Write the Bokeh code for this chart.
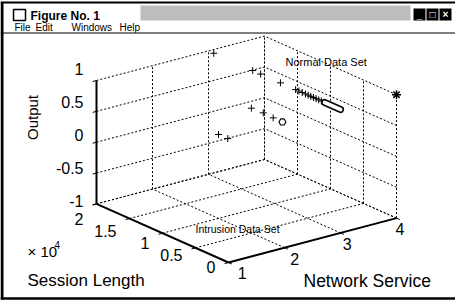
import numpy as np
from bokeh.plotting import figure
from bokeh.models import Range1d
from bokeh.core.properties import value
from bokeh.embed import file_html
from bokeh.resources import INLINE

# ---------------- data ----------------
service_ticks = [1, 2, 3, 4]
service_tick_labels = ["1", "2", "3", "4"]
session_ticks = [0, 5000, 10000, 15000, 20000]
session_tick_labels = ["0", "0.5", "1", "1.5", "2"]
output_ticks = [-1, -0.5, 0, 0.5, 1]
output_tick_labels = ["-1", "-0.5", "0", "0.5", "1"]

normal_service = [3, 3, 3, 3, 3, 3, 3, 3, 3, 3, 3, 3, 3, 3, 4]
normal_session = [19200, 13300, 12100, 9100, 6800, 6300, 5800, 5300, 4900, 4500, 4100, 3700, 3300, 2900, 0]
normal_output = [1, 1, 1, 1, 1, 1, 1, 1, 1, 1, 1, 1, 1, 1, 1]

# dense run of normal points drawn as an elongated blob
blob_service = [3, 3]
blob_session = [2400, 0]
blob_output = [1, 1]

intrusion_service = [3, 3, 3, 2, 2]
intrusion_session = [13500, 11700, 10200, 10000, 8600]
intrusion_output = [0.38, 0.39, 0.38, 0.36, 0.36]
intrusion_ring_service = [3]
intrusion_ring_session = [8800]
intrusion_ring_output = [0.38]

# ---------------- 3-D view (oblique projection of the MATLAB view) ----------------
ORIGIN = (228.0, 262.0)
E_SERV = (56.0, -14.8)
E_SESS = (-66.0, -29.3)   # per 1e4
E_OUT = (0.0, -61.7)


def proj(s, L, z):
    s = np.asarray(s, float) - 1.0
    L = np.asarray(L, float) / 1e4
    z = np.asarray(z, float) + 1.0
    X = ORIGIN[0] + E_SERV[0] * s + E_SESS[0] * L + E_OUT[0] * z
    Y = ORIGIN[1] + E_SERV[1] * s + E_SESS[1] * L + E_OUT[1] * z
    return X, Y


def seg(a, b):
    xa, ya = proj(*a)
    xb, yb = proj(*b)
    return [float(xa), float(xb)], [float(ya), float(yb)]


smin, smax = service_ticks[0], service_ticks[-1]
lmin, lmax = session_ticks[0], session_ticks[-1]
zmin, zmax = output_ticks[0], output_ticks[-1]

p = figure(width=455, height=301, x_range=Range1d(0, 455), y_range=Range1d(301, 0),
           output_backend="svg", toolbar_location=None, min_border=0,
           x_axis_location=None, y_axis_location=None)
p.grid.visible = False
p.outline_line_color = None
p.background_fill_color = "white"
p.border_fill_color = "white"

FONT = value("Liberation Sans")

# ---------------- window chrome ----------------
p.quad(left=[140], right=[410], top=[5], bottom=[20], fill_color="#bdbdbd", line_color=None)
p.quad(left=[13], right=[25], top=[9], bottom=[20], fill_color="white", line_color="black", line_width=1.5)
p.text(x=[30], y=[15], text=["Figure No. 1"], text_font=FONT, text_font_size="12px",
       text_font_style="bold", text_baseline="middle", text_color="black")
p.quad(left=[413, 426, 439], right=[425, 438, 451], top=[8, 8, 8], bottom=[20, 20, 20],
       fill_color="black", line_color=None)
p.text(x=[419, 432, 445], y=[14, 14, 14], text=["_", "□", "×"], text_font=FONT, text_font_size="10px",
       text_font_style="bold", text_align="center", text_baseline="middle", text_color="white")
p.text(x=[14, 35, 71, 119], y=[27, 27, 27, 27], text=["File", "Edit", "Windows", "Help"],
       text_font=FONT, text_font_size="10px", text_baseline="middle", text_color="black")
p.line(x=[0, 455], y=[2, 2], line_color="black", line_width=2)
p.line(x=[0, 455], y=[32.5, 32.5], line_color="black", line_width=1)
p.line(x=[1.5, 1.5], y=[2, 299], line_color="black", line_width=3)
p.line(x=[0, 455], y=[298, 298], line_color="black", line_width=2.5)

# ---------------- dotted grid on the three back planes ----------------
gx, gy = [], []
for s in service_ticks[1:]:
    a, b = seg((s, lmax, zmin), (s, lmax, zmax)); gx.append(a); gy.append(b)
for z in output_ticks:
    a, b = seg((smin, lmax, z), (smax, lmax, z)); gx.append(a); gy.append(b)
for L in session_ticks:
    a, b = seg((smax, L, zmin), (smax, L, zmax)); gx.append(a); gy.append(b)
for z in output_ticks:
    a, b = seg((smax, lmin, z), (smax, lmax, z)); gx.append(a); gy.append(b)
for s in service_ticks[1:]:
    a, b = seg((s, lmin, zmin), (s, lmax, zmin)); gx.append(a); gy.append(b)
for L in session_ticks[1:]:
    a, b = seg((smin, L, zmin), (smax, L, zmin)); gx.append(a); gy.append(b)
p.multi_line(xs=gx, ys=gy, line_color="black", line_width=1, line_dash="2 2")

# ---------------- solid axes and ticks ----------------
ax, ay = [], []
for a3, b3 in [((smin, lmax, zmin), (smin, lmax, zmax)),
               ((smin, lmax, zmin), (smin, lmin, zmin)),
               ((smin, lmin, zmin), (smax, lmin, zmin))]:
    a, b = seg(a3, b3); ax.append(a); ay.append(b)
p.multi_line(xs=ax, ys=ay, line_color="black", line_width=2)

tx, ty = [], []
for z in output_ticks:
    a, b = seg((smin, lmax, z), (smin - 0.07, lmax, z)); tx.append(a); ty.append(b)
for L in session_ticks:
    a, b = seg((smin, L, zmin), (smin - 0.07, L, zmin)); tx.append(a); ty.append(b)
for s in service_ticks:
    a, b = seg((s, lmin, zmin), (s, lmin - 500, zmin)); tx.append(a); ty.append(b)
p.multi_line(xs=tx, ys=ty, line_color="black", line_width=1)

# tick labels (MATLAB places them along a line slightly skewed from the axis)
zt = np.asarray(output_ticks, float)
zx, zy = proj([smin] * len(zt), [lmax] * len(zt), zt)
p.text(x=list(zx - 13), y=list(zy - 12 + (1 - zt) * 4.5), text=output_tick_labels, text_font=FONT,
       text_font_size="16px", text_align="right", text_baseline="middle", text_color="black")

lt = np.asarray(session_ticks, float) / 1e4
lx, ly = proj([smin] * len(lt), session_ticks, [zmin] * len(lt))
p.text(x=list(lx - 13), y=list(ly + 9.4 + 5.4 * (lt - 1)), text=session_tick_labels, text_font=FONT,
       text_font_size="16px", text_align="right", text_baseline="middle", text_color="black")

st = np.asarray(service_ticks, float)
sx, sy = proj(st, [lmin] * len(st), [zmin] * len(st))
p.text(x=list(sx + 8.5 - 3.4 * (st - 2.5)), y=list(sy + 10.8), text=service_tick_labels, text_font=FONT,
       text_font_size="16px", text_align="center", text_baseline="middle", text_color="black")

# axis titles
p.text(x=[32], y=[117], text=["Output"], angle=np.pi / 2, text_font=FONT, text_font_size="15px",
       text_align="center", text_baseline="middle", text_color="black")
p.text(x=[27], y=[280], text=["Session Length"], text_font=FONT, text_font_size="17px",
       text_baseline="middle", text_color="black")
p.text(x=[303], y=[280], text=["Network Service"], text_font=FONT, text_font_size="17.5px",
       text_baseline="middle", text_color="black")
p.text(x=[27], y=[251], text=["× 10"], text_font=FONT, text_font_size="15px",
       text_baseline="middle", text_color="black")
p.text(x=[54], y=[244], text=["4"], text_font=FONT, text_font_size="10px",
       text_baseline="middle", text_color="black")

# ---------------- data points ----------------
nx, ny = proj(normal_service, normal_session, normal_output)
p.scatter(x=list(nx[:-1]), y=list(ny[:-1]), marker="cross", size=7, line_color="black", line_width=1)
p.scatter(x=[nx[-1]], y=[ny[-1]], marker="asterisk", size=9, line_color="black", line_width=1.5)

bx, by = proj(blob_service, blob_session, blob_output)
p.line(x=list(bx), y=list(by), line_color="black", line_width=7, line_cap="round")
p.line(x=list(bx), y=list(by), line_color="white", line_width=4, line_cap="round")

ix, iy = proj(intrusion_service, intrusion_session, intrusion_output)
p.scatter(x=list(ix), y=list(iy), marker="cross", size=7, line_color="black", line_width=1)
rx, ry = proj(intrusion_ring_service, intrusion_ring_session, intrusion_ring_output)
p.scatter(x=list(rx), y=list(ry), marker="hex", size=7, fill_color="white", line_color="black", line_width=1.2)

# annotations anchored in data space
ax_, ay_ = proj([3.58], [13250], [1])
p.text(x=list(ax_), y=list(ay_), text=["Normal Data Set"], text_font=FONT, text_font_size="11px",
       text_baseline="middle", text_color="black")
bx_, by_ = proj([1.47], [8980], [-1])
p.text(x=list(bx_), y=list(by_), text=["Intrusion Data Set"], text_font=FONT, text_font_size="10.5px",
       text_baseline="middle", text_color="black")

open("out.html", "w").write(file_html(p, INLINE))
